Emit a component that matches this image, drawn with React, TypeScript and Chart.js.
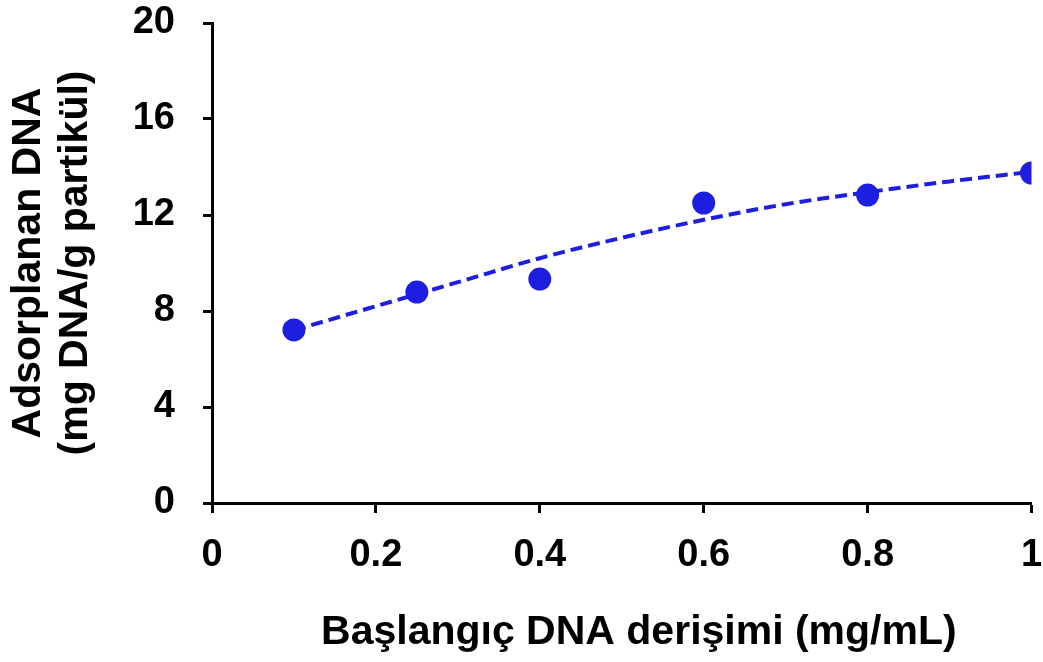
import React, { useEffect, useRef } from "react";
import { Chart, registerables } from "chart.js";

Chart.register(...registerables);

// Measured data (Başlangıç DNA derişimi vs adsorbed DNA)
const concentrations = [0.1, 0.25, 0.4, 0.6, 0.8, 1.0];
const adsorbed = [7.21, 8.79, 9.33, 12.5, 12.83, 13.75];

// Trend line
const trendX = [0.1, 0.2, 0.3, 0.4, 0.5, 0.6, 0.7, 0.8, 0.9, 1.0];
const trendY = [7.2, 8.2, 9.2, 10.2, 11.05, 11.8, 12.45, 12.95, 13.4, 13.8];

const xTicks = [0, 0.2, 0.4, 0.6, 0.8, 1];
const yTicks = [0, 4, 8, 12, 16, 20];

const xTitle = "   Başlangıç DNA derişimi (mg/mL)";
const yTitle = ["Adsorplanan DNA", "(mg DNA/g partikül)"];

const BLUE = "rgb(30,30,225)";
const FONT = "'Liberation Sans', Arial, sans-serif";

export default function App() {
  const ref = useRef<HTMLCanvasElement | null>(null);

  useEffect(() => {
    if (!ref.current) return;
    const chart = new Chart(ref.current, {
      type: "scatter",
      data: {
        datasets: [
          {
            label: "trend",
            data: trendX.map((x, i) => ({ x, y: trendY[i] })),
            showLine: true,
            borderColor: BLUE,
            borderWidth: 4,
            borderDash: [12, 6],
            pointRadius: 0,
            cubicInterpolationMode: "monotone",
            order: 2,
          },
          {
            label: "data",
            data: concentrations.map((x, i) => ({ x, y: adsorbed[i] })),
            showLine: false,
            backgroundColor: BLUE,
            borderColor: BLUE,
            pointRadius: 11.5,
            pointBorderWidth: 0,
            order: 1,
          },
        ],
      },
      options: {
        responsive: false,
        animation: false,
        layout: { padding: { top: 23, right: 10, left: 0, bottom: 0 } },
        plugins: {
          legend: { display: false },
          tooltip: { enabled: false },
        },
        scales: {
          x: {
            type: "linear",
            min: 0,
            max: 1,
            afterFit: (s: any) => {
              s.height = 159;
              s.paddingLeft = 0;
              s.paddingRight = 0;
            },
            afterBuildTicks: (s: any) => {
              s.ticks = xTicks.map((v) => ({ value: v }));
            },
            border: { display: true, color: "#000", width: 3 },
            grid: {
              display: true,
              drawOnChartArea: false,
              drawTicks: true,
              tickLength: 10,
              tickColor: "#000",
              tickWidth: 3,
            },
            ticks: {
              color: "#000",
              padding: 20,
              font: { family: FONT, size: 38, weight: "bold" },
              maxRotation: 0,
              callback: (v: any) => String(v),
            },
            title: {
              display: true,
              text: xTitle,
              color: "#000",
              font: { family: FONT, size: 41, weight: "bold" },
              padding: { top: 0, bottom: 5 },
            },
          },
          y: {
            type: "linear",
            min: 0,
            max: 20,
            afterFit: (s: any) => {
              s.width = 212;
              s.paddingTop = 0;
              s.paddingBottom = 0;
            },
            afterBuildTicks: (s: any) => {
              s.ticks = yTicks.map((v) => ({ value: v }));
            },
            border: { display: true, color: "#000", width: 3 },
            grid: {
              display: true,
              drawOnChartArea: false,
              drawTicks: true,
              tickLength: 9,
              tickColor: "#000",
              tickWidth: 3,
            },
            ticks: {
              color: "#000",
              padding: 28,
              font: { family: FONT, size: 38, weight: "bold" },
              callback: (v: any) => String(v),
            },
            title: {
              display: true,
              text: yTitle,
              color: "#000",
              font: { family: FONT, size: 41, weight: "bold", lineHeight: 1.15 },
              padding: { top: 5, bottom: 0 },
            },
          },
        },
      },
    });
    return () => chart.destroy();
  }, []);

  return (
    <div style={{ position: "absolute", left: 0, top: 0, width: 1043, height: 662, background: "#fff" }}>
      <canvas ref={ref} width={1043} height={662} style={{ width: 1043, height: 662 }} />
    </div>
  );
}
